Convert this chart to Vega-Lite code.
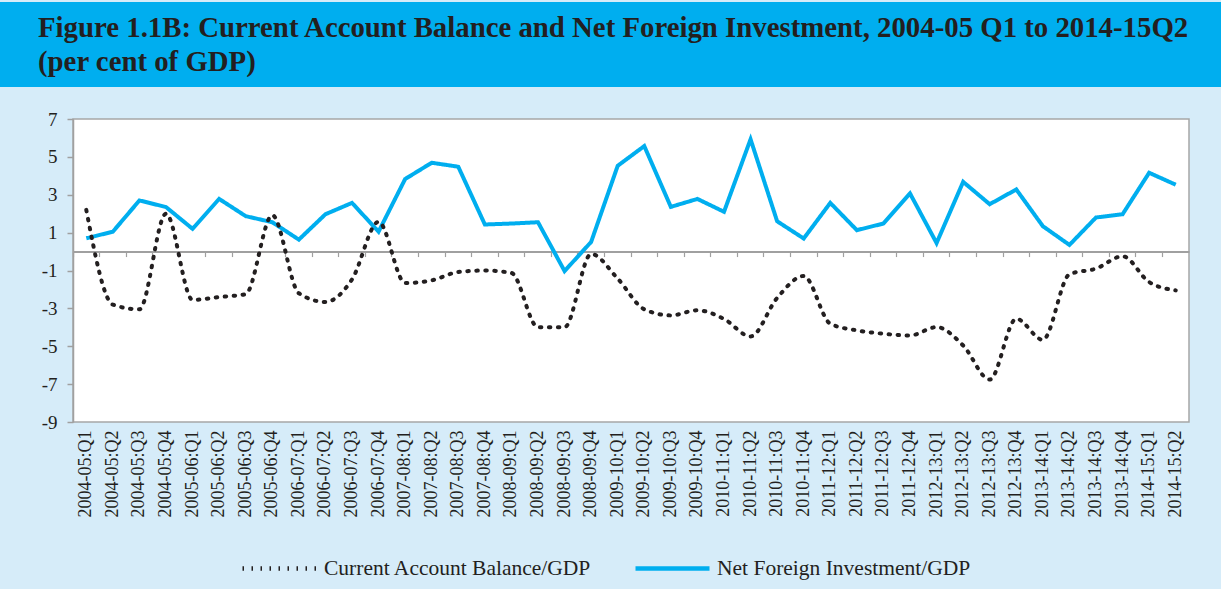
{
  "$schema": "https://vega.github.io/schema/vega-lite/v6.json",
  "background": "#D6ECF9",
  "padding": {"left": 0, "top": 2, "right": 0, "bottom": 10},
  "spacing": 22,
  "config": {
    "font": "Liberation Serif",
    "view": {"stroke": null},
    "axis": {"labelFont": "Liberation Serif", "labelColor": "#231F20", "grid": false, "domainColor": "#A0A0A0", "tickColor": "#A0A0A0"}
  },
  "vconcat": [
    {
      "width": 1221,
      "height": 85,
      "view": {"fill": "#00AEEF", "stroke": null},
      "data": {"values": [
        {"row": 1, "line": "Figure 1.1B:  Current Account Balance and Net Foreign Investment, 2004-05 Q1 to 2014-15Q2"},
        {"row": 2, "line": "(per cent of GDP)"}
      ]},
      "mark": {"type": "text", "align": "left", "baseline": "alphabetic", "dx": 38, "font": "Liberation Serif", "fontWeight": "bold", "fontSize": 28.8, "fill": "#231F20"},
      "encoding": {
        "x": {"datum": 0, "type": "quantitative", "scale": {"domain": [0, 1]}, "axis": null},
        "y": {"field": "row", "type": "quantitative", "scale": {"domain": [-0.03, 2.47], "reverse": true, "nice": false, "zero": false}, "axis": null},
        "text": {"field": "line"}
      }
    },
    {
      "spacing": 0,
      "hconcat": [
        {
          "width": 1,
          "height": 303,
          "data": {"values": [{}]},
          "mark": {"type": "text", "text": ""},
          "encoding": {}
        },
        {
          "width": 1116,
          "height": 303,
          "view": {"fill": "white", "stroke": "#A6A6A6", "strokeWidth": 1.5},
          "data": {"values": [
            {"q": "2004-05:Q1", "Current Account Balance/GDP": 2.2, "Net Foreign Investment/GDP": 0.7},
            {"q": "2004-05:Q2", "Current Account Balance/GDP": -2.8, "Net Foreign Investment/GDP": 1.05},
            {"q": "2004-05:Q3", "Current Account Balance/GDP": -3.05, "Net Foreign Investment/GDP": 2.7},
            {"q": "2004-05:Q4", "Current Account Balance/GDP": 2.0, "Net Foreign Investment/GDP": 2.35},
            {"q": "2005-06:Q1", "Current Account Balance/GDP": -2.55, "Net Foreign Investment/GDP": 1.2},
            {"q": "2005-06:Q2", "Current Account Balance/GDP": -2.4, "Net Foreign Investment/GDP": 2.78},
            {"q": "2005-06:Q3", "Current Account Balance/GDP": -2.25, "Net Foreign Investment/GDP": 1.87},
            {"q": "2005-06:Q4", "Current Account Balance/GDP": 1.92, "Net Foreign Investment/GDP": 1.55},
            {"q": "2006-07:Q1", "Current Account Balance/GDP": -2.2, "Net Foreign Investment/GDP": 0.63},
            {"q": "2006-07:Q2", "Current Account Balance/GDP": -2.66, "Net Foreign Investment/GDP": 1.97},
            {"q": "2006-07:Q3", "Current Account Balance/GDP": -1.47, "Net Foreign Investment/GDP": 2.57},
            {"q": "2006-07:Q4", "Current Account Balance/GDP": 1.57, "Net Foreign Investment/GDP": 1.05},
            {"q": "2007-08:Q1", "Current Account Balance/GDP": -1.66, "Net Foreign Investment/GDP": 3.83},
            {"q": "2007-08:Q2", "Current Account Balance/GDP": -1.52, "Net Foreign Investment/GDP": 4.69},
            {"q": "2007-08:Q3", "Current Account Balance/GDP": -1.08, "Net Foreign Investment/GDP": 4.48},
            {"q": "2007-08:Q4", "Current Account Balance/GDP": -1.0, "Net Foreign Investment/GDP": 1.43},
            {"q": "2008-09:Q1", "Current Account Balance/GDP": -1.13, "Net Foreign Investment/GDP": 1.48},
            {"q": "2008-09:Q2", "Current Account Balance/GDP": -4.0, "Net Foreign Investment/GDP": 1.55},
            {"q": "2008-09:Q3", "Current Account Balance/GDP": -4.0, "Net Foreign Investment/GDP": -1.03},
            {"q": "2008-09:Q4", "Current Account Balance/GDP": -0.13, "Net Foreign Investment/GDP": 0.51},
            {"q": "2009-10:Q1", "Current Account Balance/GDP": -1.43, "Net Foreign Investment/GDP": 4.53},
            {"q": "2009-10:Q2", "Current Account Balance/GDP": -3.05, "Net Foreign Investment/GDP": 5.57},
            {"q": "2009-10:Q3", "Current Account Balance/GDP": -3.37, "Net Foreign Investment/GDP": 2.36},
            {"q": "2009-10:Q4", "Current Account Balance/GDP": -3.1, "Net Foreign Investment/GDP": 2.78},
            {"q": "2010-11:Q1", "Current Account Balance/GDP": -3.56, "Net Foreign Investment/GDP": 2.1},
            {"q": "2010-11:Q2", "Current Account Balance/GDP": -4.48, "Net Foreign Investment/GDP": 5.93},
            {"q": "2010-11:Q3", "Current Account Balance/GDP": -2.45, "Net Foreign Investment/GDP": 1.6},
            {"q": "2010-11:Q4", "Current Account Balance/GDP": -1.29, "Net Foreign Investment/GDP": 0.69},
            {"q": "2011-12:Q1", "Current Account Balance/GDP": -3.81, "Net Foreign Investment/GDP": 2.57},
            {"q": "2011-12:Q2", "Current Account Balance/GDP": -4.16, "Net Foreign Investment/GDP": 1.13},
            {"q": "2011-12:Q3", "Current Account Balance/GDP": -4.34, "Net Foreign Investment/GDP": 1.48},
            {"q": "2011-12:Q4", "Current Account Balance/GDP": -4.43, "Net Foreign Investment/GDP": 3.07},
            {"q": "2012-13:Q1", "Current Account Balance/GDP": -3.99, "Net Foreign Investment/GDP": 0.45},
            {"q": "2012-13:Q2", "Current Account Balance/GDP": -4.96, "Net Foreign Investment/GDP": 3.68},
            {"q": "2012-13:Q3", "Current Account Balance/GDP": -6.76, "Net Foreign Investment/GDP": 2.5},
            {"q": "2012-13:Q4", "Current Account Balance/GDP": -3.55, "Net Foreign Investment/GDP": 3.28},
            {"q": "2013-14:Q1", "Current Account Balance/GDP": -4.66, "Net Foreign Investment/GDP": 1.34},
            {"q": "2013-14:Q2", "Current Account Balance/GDP": -1.2, "Net Foreign Investment/GDP": 0.35},
            {"q": "2013-14:Q3", "Current Account Balance/GDP": -0.9, "Net Foreign Investment/GDP": 1.8},
            {"q": "2013-14:Q4", "Current Account Balance/GDP": -0.25, "Net Foreign Investment/GDP": 1.97},
            {"q": "2014-15:Q1", "Current Account Balance/GDP": -1.61, "Net Foreign Investment/GDP": 4.16},
            {"q": "2014-15:Q2", "Current Account Balance/GDP": -2.05, "Net Foreign Investment/GDP": 3.53}
          ]},
          "transform": [{"fold": ["Current Account Balance/GDP", "Net Foreign Investment/GDP"], "as": ["series", "value"]}],
          "encoding": {
            "y": {
              "field": "value", "type": "quantitative",
              "scale": {"domain": [-9, 7], "nice": false, "zero": false},
              "axis": {"values": [-9, -7, -5, -3, -1, 1, 3, 5, 7], "labelExpr": "'' + datum.value", "title": null, "domainColor": "#A0A0A0", "domainWidth": 1.5, "tickSize": 6, "tickWidth": 1.5, "labelPadding": 10, "labelFontSize": 19, "minExtent": 71}
            },
            "color": {
              "field": "series", "type": "nominal",
              "scale": {"domain": ["Current Account Balance/GDP", "Net Foreign Investment/GDP"], "range": ["#231F20", "#00AEEF"]},
              "legend": {"title": null, "orient": "none", "legendX": 240, "legendY": 527, "direction": "horizontal", "symbolType": "stroke", "symbolSize": 5476, "symbolStrokeWidth": 4.5, "labelFont": "Liberation Serif", "labelFontSize": 21.5, "labelColor": "#231F20", "labelOffset": 5, "columnPadding": 34, "labelLimit": 0}
            },
            "strokeDash": {
              "field": "series", "type": "nominal",
              "scale": {"domain": ["Current Account Balance/GDP", "Net Foreign Investment/GDP"], "range": [[1.5, 7.5], [1, 0]]},
              "legend": {"title": null, "orient": "none", "legendX": 240, "legendY": 527, "direction": "horizontal", "symbolType": "stroke", "symbolSize": 5476, "symbolStrokeWidth": 4.5, "labelFont": "Liberation Serif", "labelFontSize": 21.5, "labelColor": "#231F20", "labelOffset": 5, "columnPadding": 34, "labelLimit": 0}
            }
          },
          "layer": [
            {
              "transform": [{"filter": "datum.series === 'Net Foreign Investment/GDP'"}],
              "mark": {"type": "line", "strokeWidth": 4, "strokeJoin": "miter"},
              "encoding": {
                "x": {
                  "field": "q", "type": "ordinal", "sort": null, "bandPosition": 0.5,
                  "scale": {"type": "band", "paddingInner": 0, "paddingOuter": 0},
                  "axis": {"orient": "bottom", "offset": -170.44, "title": null, "labels": false, "ticks": true, "bandPosition": 0, "tickSize": 5, "tickWidth": 1.2, "tickColor": "#A0A0A0", "domain": true, "domainColor": "#A0A0A0", "domainWidth": 2}
                }
              }
            },
            {
              "transform": [{"filter": "datum.series === 'Current Account Balance/GDP'"}],
              "mark": {"type": "line", "strokeWidth": 4, "strokeCap": "round", "interpolate": "monotone"},
              "encoding": {
                "x": {
                  "field": "q", "type": "ordinal", "sort": null, "bandPosition": 0.5,
                  "scale": {"type": "band", "paddingInner": 0, "paddingOuter": 0},
                  "axis": {"orient": "bottom", "title": null, "labels": true, "ticks": false, "domain": false, "labelAngle": -90, "labelFontSize": 18, "labelPadding": 8, "labelColor": "#231F20"}
                }
              }
            }
          ],
          "resolve": {"axis": {"x": "independent"}}
        }
      ]
    }
  ]
}
